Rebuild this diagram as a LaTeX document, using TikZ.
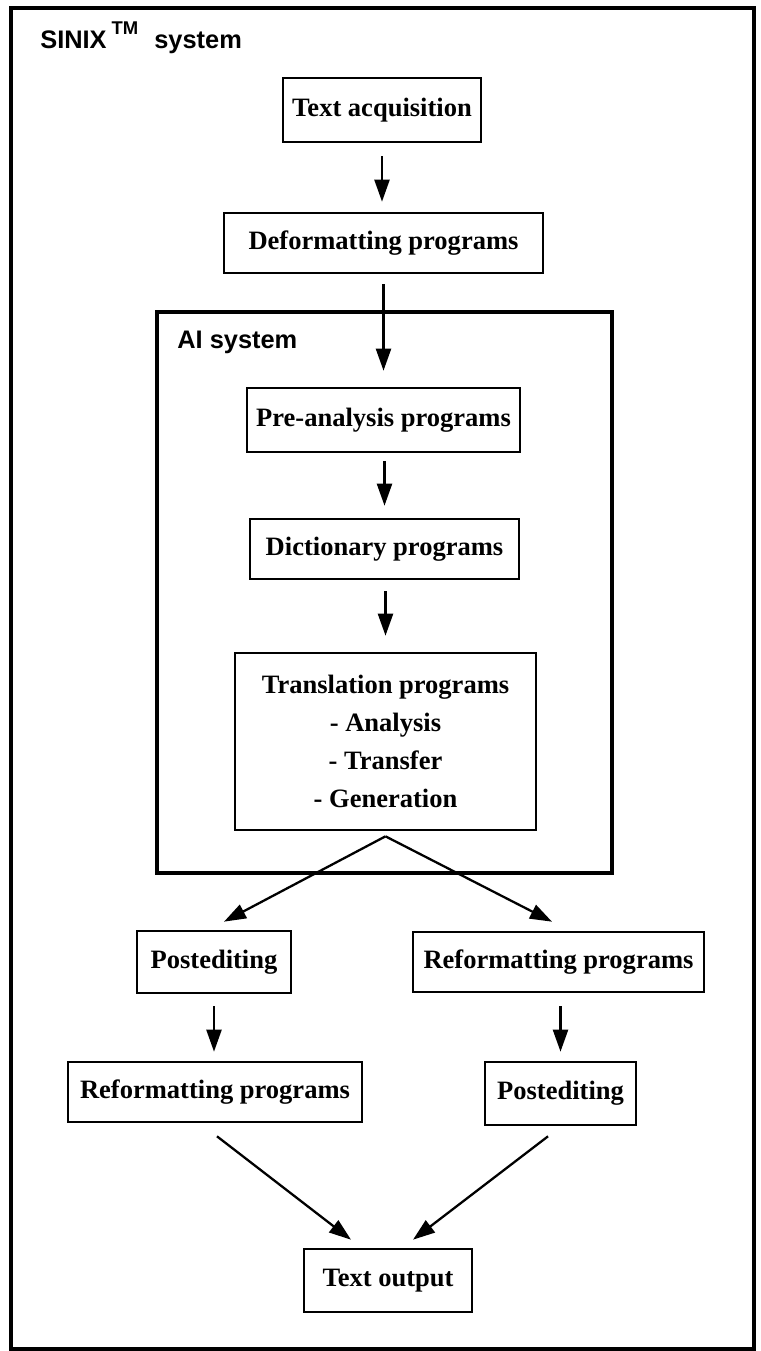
\documentclass[tikz,border=0pt]{standalone}
\usepackage{fontspec}
\setmainfont{Liberation Serif}
\newfontfamily\labelfont{Liberation Sans}
\usetikzlibrary{arrows.meta,calc}
\begin{document}
\begin{tikzpicture}[x=0.02cm,y=-0.02cm,
  box/.style={draw, line width=1.5pt, inner sep=0pt, align=center,
    font=\fontsize{15.1pt}{21.6pt}\selectfont\bfseries},
  bx/.style 2 args={box, minimum width=#1*0.02cm, minimum height=#2*0.02cm},
  frame/.style 2 args={draw, line width=1.8pt, inner sep=0pt,
    minimum width=#1*0.02cm, minimum height=#2*0.02cm},
  arr/.style={line width=1.3pt, -{Triangle[length=0.44cm,width=0.3cm]}},
  lbl/.style={anchor=base west, inner sep=0pt,
    font=\fontsize{14.45pt}{17pt}\selectfont\labelfont\bfseries}]
\useasboundingbox (0,0) rectangle (760,1351);

% containers
\node[frame={743}{1341}] (sinixsys) at (382.5,678.5) {};
\node[lbl] (sinixlbl) at (40,49)
  {SINIX\kern0.1cm\raisebox{0.28cm}{\fontsize{10.5pt}{10.5pt}\selectfont TM}\kern0.18cm\ system};
\node[frame={455}{561}] (aisys) at (384.5,592.5) {};
\node[lbl] (ailbl) at (177,348) {AI system};

% processing steps
\node[bx={198}{64}] (acq) at (382,110) {Text acquisition};
\node[bx={319}{60}] (deform) at (383.5,243) {Deformatting programs};
\node[bx={273}{64}] (pre) at (383.5,420) {Pre-analysis programs};
\node[bx={269}{60}] (dict) at (384.5,549) {Dictionary programs};
\node[bx={301}{177}] (trans) at (385.5,741.5)
  {Translation programs\\- Analysis\\- Transfer\\- Generation};
\node[bx={154}{62}] (postL) at (214,962) {Postediting};
\node[bx={291}{60}] (reformR) at (558.5,962) {Reformatting programs};
\node[bx={294}{60}] (reformL) at (215,1092) {Reformatting programs};
\node[bx={151}{63}] (postR) at (560.5,1093.5) {Postediting};
\node[bx={168}{63}] (out) at (388,1280.5) {Text output};

% flow
\draw[arr, shorten <=0.26cm, shorten >=0.2cm] (acq.south) -- (acq.south |- deform.north);
\draw[arr, shorten <=0.2cm, shorten >=0.32cm] (pre.north |- deform.south) -- (pre.north);
\draw[arr, shorten <=0.16cm, shorten >=0.24cm] (dict.north |- pre.south) -- (dict.north);
\draw[arr, shorten <=0.22cm, shorten >=0.32cm] (trans.north |- dict.south) -- (trans.north);

\coordinate (fork) at ($(trans.south)+(0,5)$);
\draw[arr] (fork) -- ($(postL.north)+(10,-8)$);
\draw[arr] (fork) -- ($(reformR.north)+(-6.5,-9)$);

\draw[arr, shorten <=0.24cm, shorten >=0.18cm] (postL.south) -- (postL.south |- reformL.north);
\draw[arr, shorten <=0.26cm, shorten >=0.18cm] (postR.north |- reformR.south) -- (postR.north);

\draw[arr] ($(reformL.south)+(2,13)$) -- ($(out.north)+(-37,-8)$);
\draw[arr] ($(postR.south)+(-12.5,10)$) -- ($(out.north)+(25,-8)$);
\end{tikzpicture}
\end{document}
